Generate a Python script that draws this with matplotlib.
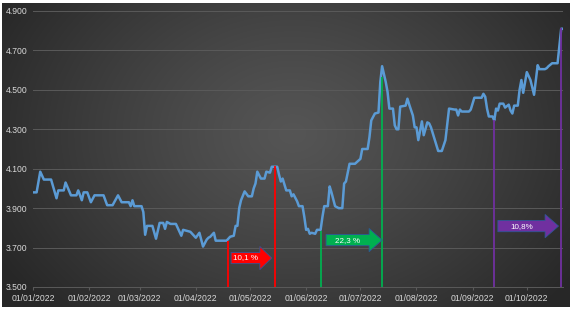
import numpy as np
import matplotlib
matplotlib.use("Agg")
import matplotlib.pyplot as plt
import matplotlib.dates as mdates
from matplotlib.patches import FancyArrow

# days since 01/01/2022 and index values
days = [0, 2, 4, 6, 10, 13, 14, 17, 18, 21, 24, 25, 27, 28, 30, 32, 34, 39, 41, 44,
        47, 49, 53, 54, 55, 56, 60, 61, 62, 63, 66, 68, 70, 72, 73, 74, 76, 79, 82, 83,
        87, 90, 92, 94, 96, 97, 98, 100, 101, 107, 109, 111, 112, 113, 114, 115, 117, 119, 121, 122,
        123, 124, 126, 128, 129, 131, 132, 135, 136, 137, 138, 140, 142, 143, 144, 146, 147, 149, 150, 151,
        152, 153, 154, 156, 157, 159, 160, 161, 163, 164, 165, 167, 169, 171, 172, 173, 175, 178, 181, 182,
        185, 186, 187, 189, 191, 192, 193, 195, 196, 197, 199, 200, 201, 202, 203, 206, 207, 208, 210, 211,
        212, 213, 215, 216, 218, 219, 220, 222, 224, 226, 228, 230, 233, 234, 235, 236, 237, 241, 242, 244,
        248, 249, 250, 251, 252, 254, 255, 256, 257, 258, 260, 261, 263, 264, 265, 266, 268, 269, 270, 271,
        273, 275, 277, 279, 280, 283, 284, 285, 287, 290, 292, 293]
values = [3980, 3980, 4085, 4045, 4045, 3950, 3990, 3990, 4030, 3965, 3965, 3990, 3940, 3980, 3980, 3930, 3965, 3965, 3915, 3915,
          3965, 3930, 3930, 3910, 3940, 3910, 3910, 3880, 3765, 3810, 3810, 3745, 3825, 3825, 3795, 3830, 3820, 3820, 3760, 3790,
          3780, 3750, 3775, 3705, 3740, 3750, 3755, 3775, 3735, 3735, 3755, 3760, 3810, 3810, 3900, 3940, 3985, 3960, 3960, 4000,
          4025, 4085, 4050, 4050, 4085, 4080, 4110, 4110, 4070, 4035, 4050, 3990, 3990, 3960, 3970, 3935, 3910, 3910, 3855, 3790,
          3795, 3770, 3775, 3770, 3790, 3790, 3855, 3910, 3910, 4010, 3980, 3910, 3900, 3900, 4025, 4035, 4125, 4125, 4150, 4200,
          4200, 4260, 4345, 4380, 4385, 4540, 4620, 4540, 4490, 4405, 4405, 4320, 4300, 4300, 4415, 4420, 4455, 4425, 4370, 4310,
          4310, 4245, 4340, 4270, 4335, 4330, 4310, 4250, 4190, 4190, 4245, 4405, 4400, 4400, 4370, 4400, 4390, 4390, 4400, 4460,
          4460, 4480, 4465, 4405, 4365, 4365, 4345, 4405, 4395, 4430, 4430, 4410, 4425, 4395, 4380, 4420, 4420, 4500, 4550, 4485,
          4590, 4550, 4475, 4625, 4605, 4605, 4610, 4620, 4635, 4635, 4810, 4810]

# markers: (start day, start value, end day, end value, label, colour)
moves = [
    (108, 3735, 134, 4112, "10,1 %", "#ff0000"),
    (159, 3785, 193, 4565, "22,3 %", "#00b050"),
    (255, 4345, 292, 4812, "10,8%", "#7030a0"),
]
arrow_y = [3647, 3738, 3809]
arrow_span = [(109.5, 132), (162, 193), (257, 290.5)]

start = np.datetime64("2022-01-01")
dates = start + np.array(days).astype("timedelta64[D]")
x = mdates.date2num(dates)
x0 = mdates.date2num(start)

fig = plt.figure(figsize=(5.73, 3.10), dpi=100, facecolor="white")

# dark radial background
bg = fig.add_axes([2 / 573, 3 / 310, 568 / 573, 304 / 310])
H, W = 304, 568
yy, xx = np.mgrid[0:H, 0:W]
r = np.sqrt(((xx - 290) / 340.0) ** 2 + ((yy - 130) / 260.0) ** 2)
shade = 0x55 - (0x55 - 0x27) * np.clip(r, 0, 1) ** 1.2
bg.imshow(np.dstack([shade, shade, shade]) / 255.0, aspect="auto", interpolation="bilinear")
bg.axis("off")

ax = fig.add_axes([33 / 573, 23 / 310, 530 / 573, 276 / 310])
ax.patch.set_alpha(0)
ax.plot(x, values, color="#5b9bd5", lw=1.8, zorder=3, solid_joinstyle="round")

for d0, v0, d1, v1, lab, col in moves:
    ax.vlines([x0 + d0], 3500, v0, color=col, lw=1.3, zorder=4)
    ax.vlines([x0 + d1], 3500, v1, color=col, lw=1.3, zorder=4)

head_len = [6.6, 7.2, 7.4]
for (d0, v0, d1, v1, lab, col), yc, (a, b), hl in zip(moves, arrow_y, arrow_span, head_len):
    arr = FancyArrow(x0 + a, yc, b - a, 0, width=57, head_width=118, head_length=hl,
                     length_includes_head=True, fc=col, ec="#2f5597", lw=0.6, zorder=5)
    ax.add_patch(arr)
    ax.text(x0 + a + (b - a - hl) / 2, yc, lab, color="white", fontsize=5.8,
            ha="center", va="center", family="Liberation Sans", zorder=6)

ax.set_ylim(3500, 4900)
ax.set_xlim(x0, x0 + 293)
yt = list(range(3500, 4901, 200))
ax.set_yticks(yt)
ax.set_yticklabels([f"{v:,}".replace(",", ".") for v in yt])
months = [mdates.date2num(np.datetime64(f"2022-{m:02d}-01")) for m in range(1, 11)]
ax.set_xticks(months)
ax.set_xticklabels([f"01/{m:02d}/2022" for m in range(1, 11)])
ax.grid(axis="y", color="#5a5a5a", lw=0.7)
ax.set_axisbelow(True)
for s in ["top", "right", "left"]:
    ax.spines[s].set_visible(False)
ax.spines["bottom"].set_color("#5a5a5a")
ax.spines["bottom"].set_linewidth(0.7)
ax.tick_params(axis="y", length=0, pad=4, labelsize=6.2, labelcolor="#d9d9d9")
ax.tick_params(axis="x", length=2, color="#5a5a5a", pad=3, labelsize=6.2, labelcolor="#d9d9d9")
for t in ax.get_xticklabels() + ax.get_yticklabels():
    t.set_family("Liberation Sans")

fig.savefig("out.png", dpi=100, facecolor="white")
